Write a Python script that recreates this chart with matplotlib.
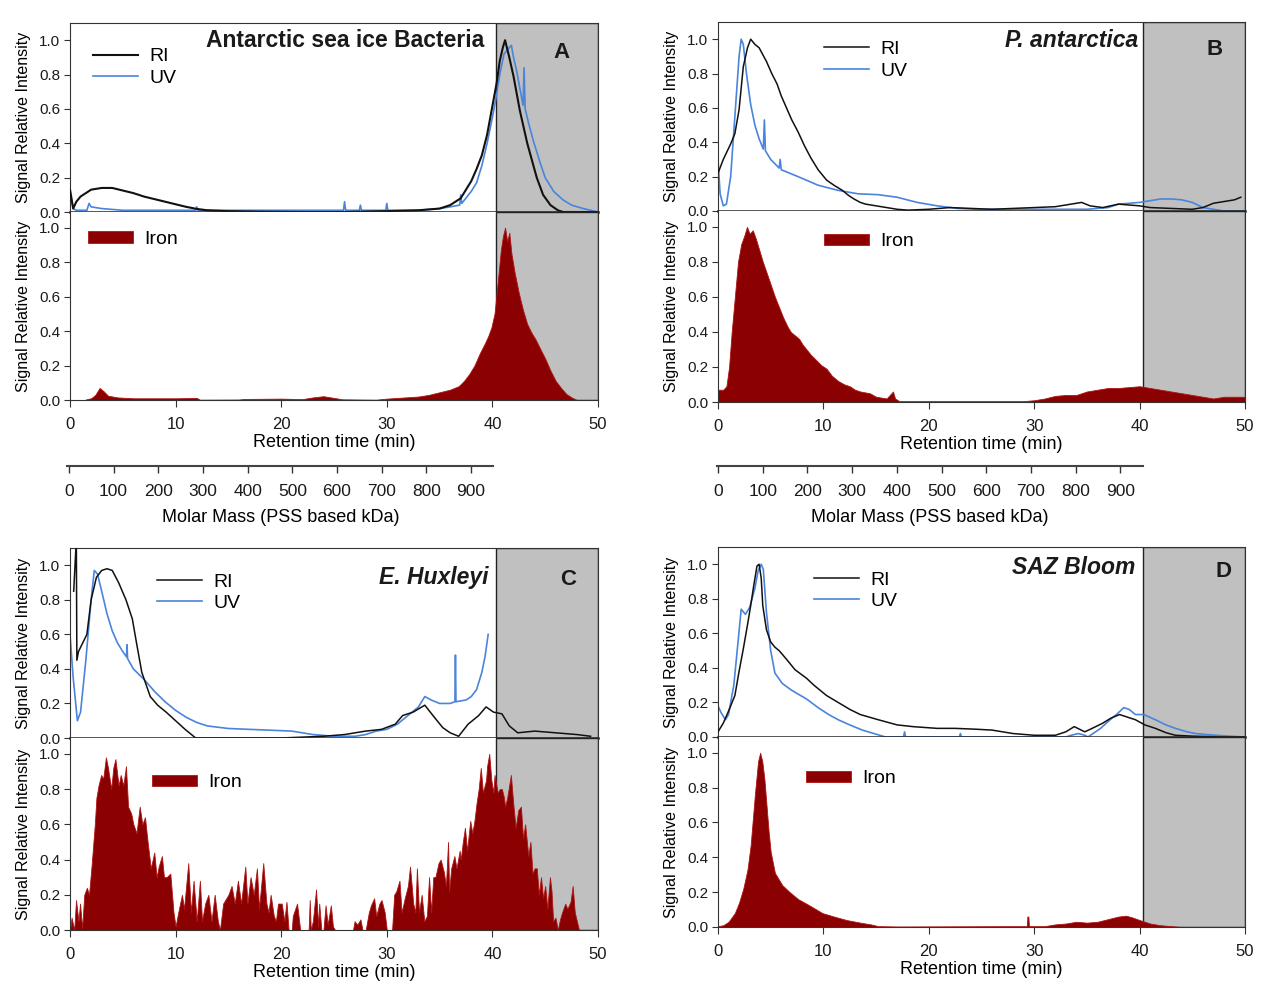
import matplotlib
matplotlib.use('Agg')
import matplotlib.pyplot as plt
import numpy as np

# -----------------------------------------------------------------------------
# Data: (retention time in min, relative signal)
# -----------------------------------------------------------------------------
A_RI = [(0, 0.13), (0.3, 0.02), (0.6, 0.06), (1, 0.09), (2, 0.13), (3, 0.14), (4, 0.14),
        (5, 0.125), (6, 0.11), (7, 0.09), (8, 0.075), (9, 0.06), (10, 0.045), (11, 0.03),
        (12, 0.018), (13, 0.01), (15, 0.005), (18, 0.002), (22, 0.0), (26, 0.0), (30, 0.005),
        (33, 0.01), (35, 0.02), (36, 0.04), (37, 0.08), (38, 0.18), (38.5, 0.25), (39, 0.33),
        (39.5, 0.45), (39.8, 0.55), (40.1, 0.65), (40.4, 0.75), (40.7, 0.88), (41.0, 0.96),
        (41.2, 1.0), (41.6, 0.9), (42.0, 0.79), (42.6, 0.59), (43.3, 0.40), (44.2, 0.2),
        (44.8, 0.1), (45.5, 0.04), (46.2, 0.01), (46.7, 0.0), (50, 0.0)]
A_UV = [(0, 0.12), (0.3, 0.02), (0.6, 0.01), (1.6, 0.01), (1.8, 0.05), (2.0, 0.03), (3, 0.02),
        (4, 0.015), (5, 0.01), (11.9, 0.01), (12.0, 0.03), (12.1, 0.01), (25.9, 0.01),
        (26.0, 0.06), (26.1, 0.01), (27.4, 0.01), (27.5, 0.04), (27.6, 0.01), (29.9, 0.01),
        (30.0, 0.05), (30.1, 0.01), (33, 0.01), (35, 0.02), (36, 0.03), (36.9, 0.04),
        (37.0, 0.1), (37.1, 0.05), (38, 0.12), (38.5, 0.17), (39, 0.27), (39.5, 0.4),
        (40, 0.55), (40.3, 0.65), (40.7, 0.8), (41.1, 0.92), (41.5, 0.95), (41.8, 0.97),
        (42.0, 0.9), (42.3, 0.82), (42.6, 0.72), (42.9, 0.62), (43.0, 0.84), (43.1, 0.6),
        (43.5, 0.5), (43.9, 0.41), (44.5, 0.29), (45.0, 0.2), (45.8, 0.12), (46.7, 0.07),
        (47.5, 0.04), (48.6, 0.02), (50, 0.0)]
A_FE = [(0, 0), (1.4, 0), (1.6, 0.005), (2.0, 0.01), (2.4, 0.03), (2.8, 0.07), (3.2, 0.05),
        (3.6, 0.025), (4.5, 0.015), (6, 0.01), (8, 0.01), (10, 0.01), (12, 0.012), (12.3, 0.002),
        (16, 0.003), (16.5, 0.006), (20, 0.008), (22, 0.005), (23, 0.015), (24, 0.022),
        (25, 0.012), (25.8, 0.004), (29, 0.002), (30, 0.008), (31, 0.012), (33, 0.02),
        (34, 0.03), (35, 0.045), (36, 0.06), (36.8, 0.08), (37.3, 0.11), (37.8, 0.15),
        (38.3, 0.2), (38.8, 0.27), (39.3, 0.33), (39.6, 0.37), (39.9, 0.42), (40.2, 0.5),
        (40.5, 0.68), (40.8, 0.87), (41.0, 0.95), (41.2, 1.0), (41.4, 0.92), (41.6, 0.97),
        (41.8, 0.85), (42.1, 0.74), (42.5, 0.62), (42.9, 0.52), (43.3, 0.44), (43.7, 0.39),
        (44.1, 0.35), (44.5, 0.3), (45.0, 0.24), (45.5, 0.17), (46.0, 0.11), (46.5, 0.07),
        (47.0, 0.035), (47.5, 0.015), (48.0, 0.0), (50, 0.0)]

B_RI = [(0, 0.22), (0.5, 0.3), (1.2, 0.39), (1.6, 0.45), (2.0, 0.59), (2.4, 0.84), (2.8, 0.95),
        (3.1, 1.0), (3.5, 0.97), (3.9, 0.95), (4.6, 0.87), (5.1, 0.8), (5.6, 0.74), (6.0, 0.67),
        (6.5, 0.6), (7.0, 0.53), (7.6, 0.46), (8.2, 0.38), (8.8, 0.31), (9.5, 0.24), (10.3, 0.18),
        (11.0, 0.15), (11.8, 0.12), (12.4, 0.09), (12.9, 0.07), (13.5, 0.05), (14, 0.04),
        (15, 0.03), (16, 0.02), (17, 0.01), (18, 0.005), (20, 0.01), (22, 0.02), (24, 0.015),
        (26, 0.01), (28, 0.015), (30, 0.02), (32, 0.025), (33.5, 0.04), (34.5, 0.05),
        (35.3, 0.03), (36.5, 0.02), (38, 0.04), (40, 0.03), (41, 0.02), (43, 0.015), (45, 0.01),
        (46, 0.02), (47, 0.045), (48, 0.055), (49, 0.065), (49.6, 0.08)]
B_UV = [(0, 0.3), (0.2, 0.1), (0.5, 0.03), (0.8, 0.04), (1.2, 0.2), (1.6, 0.55), (2.0, 0.9),
        (2.2, 1.0), (2.4, 0.97), (2.7, 0.8), (3.1, 0.62), (3.5, 0.5), (3.9, 0.42), (4.3, 0.36),
        (4.4, 0.53), (4.5, 0.35), (5.0, 0.3), (5.8, 0.25), (5.9, 0.3), (6.0, 0.24), (7.6, 0.2),
        (9.5, 0.15), (11.4, 0.12), (13.3, 0.1), (15.2, 0.095), (17, 0.08), (18.9, 0.05),
        (20.8, 0.03), (22.7, 0.015), (24.6, 0.01), (30, 0.01), (35, 0.01), (37, 0.02),
        (38, 0.04), (40, 0.05), (41, 0.06), (42, 0.07), (43, 0.07), (44, 0.065), (45, 0.05),
        (46, 0.02), (47, 0.01), (48, 0.0), (50, 0.0)]
B_FE = [(0, 0.07), (0.5, 0.07), (0.8, 0.09), (1.05, 0.2), (1.3, 0.4), (1.6, 0.6), (1.9, 0.8),
        (2.2, 0.9), (2.5, 0.95), (2.75, 1.0), (3.0, 0.96), (3.3, 0.98), (3.6, 0.93), (3.9, 0.87),
        (4.25, 0.8), (4.6, 0.74), (5.0, 0.67), (5.4, 0.6), (5.8, 0.54), (6.2, 0.48), (6.6, 0.43),
        (6.9, 0.4), (7.3, 0.38), (7.7, 0.36), (8.0, 0.33), (8.4, 0.3), (8.8, 0.27), (9.3, 0.24),
        (9.8, 0.21), (10.3, 0.19), (10.8, 0.15), (11.4, 0.12), (12.0, 0.1), (12.5, 0.09),
        (13, 0.07), (13.5, 0.06), (14.4, 0.05), (15, 0.03), (16, 0.02), (16.6, 0.06),
        (16.8, 0.02), (17.2, 0.005), (20, 0.005), (25, 0.005), (29, 0.005), (30, 0.01),
        (31, 0.02), (32, 0.035), (33, 0.04), (34, 0.04), (35, 0.06), (36, 0.07), (37, 0.08),
        (38, 0.08), (39, 0.085), (40, 0.09), (41, 0.08), (42, 0.07), (43, 0.06), (44, 0.05),
        (45, 0.04), (46, 0.03), (47, 0.02), (48, 0.03), (49, 0.03), (50, 0.03)]

C_RI = [(0.35, 0.85), (0.6, 1.15), (0.65, 0.45), (0.8, 0.5), (1.2, 0.55), (1.6, 0.6), (2.0, 0.8),
        (2.5, 0.93), (3.0, 0.97), (3.5, 0.98), (4.0, 0.97), (4.6, 0.9), (5.3, 0.8), (5.9, 0.69),
        (6.3, 0.55), (6.8, 0.38), (7.6, 0.24), (8.3, 0.19), (9.1, 0.15), (10.0, 0.1),
        (10.9, 0.05), (11.9, 0.0), (20, 0.0), (24, 0.01), (26, 0.02), (28, 0.04), (29.5, 0.05),
        (30.8, 0.08), (31.5, 0.13), (32.5, 0.15), (33.6, 0.19), (34.5, 0.12), (35.3, 0.06),
        (36.0, 0.03), (36.8, 0.01), (37.7, 0.08), (38.7, 0.13), (39.4, 0.18), (40.1, 0.15),
        (40.9, 0.14), (41.6, 0.07), (42.4, 0.03), (44, 0.04), (46, 0.03), (48, 0.02), (49.3, 0.01)]
C_UV = [(0, 0.6), (0.3, 0.35), (0.7, 0.1), (1.0, 0.15), (1.5, 0.45), (2.0, 0.8), (2.3, 0.97),
        (2.6, 0.95), (3.0, 0.85), (3.5, 0.72), (4.0, 0.62), (4.5, 0.55), (5.0, 0.5), (5.35, 0.47),
        (5.4, 0.54), (5.45, 0.46), (6.0, 0.4), (7.0, 0.34), (8.0, 0.27), (9.0, 0.21), (10, 0.16),
        (11, 0.12), (12, 0.09), (13, 0.07), (15, 0.055), (17, 0.05), (19, 0.045), (21, 0.04),
        (22, 0.03), (23, 0.02), (25, 0.01), (27, 0.01), (28, 0.02), (29, 0.04), (30, 0.05),
        (31, 0.08), (32, 0.13), (33, 0.18), (33.6, 0.24), (34.2, 0.22), (35, 0.2), (36, 0.2),
        (36.45, 0.21), (36.5, 0.48), (36.55, 0.21), (37.5, 0.22), (38, 0.24), (38.5, 0.28),
        (39, 0.38), (39.3, 0.47), (39.6, 0.6)]
C_FE = [(0, 0.0), (0.15, 0.07), (0.4, 0.0), (0.57, 0.17), (0.8, 0.05), (0.95, 0.15), (1.15, 0.01),
        (1.35, 0.2), (1.6, 0.24), (1.8, 0.2), (2.05, 0.37), (2.35, 0.6), (2.5, 0.75), (2.7, 0.82),
        (2.95, 0.88), (3.15, 0.86), (3.4, 0.98), (3.6, 0.92), (3.9, 0.8), (4.1, 0.92), (4.3, 0.97),
        (4.6, 0.82), (4.8, 0.88), (5.05, 0.82), (5.3, 0.93), (5.5, 0.7), (5.8, 0.66), (6.0, 0.6),
        (6.3, 0.55), (6.6, 0.7), (6.85, 0.6), (7.1, 0.64), (7.35, 0.5), (7.65, 0.35), (7.98, 0.44),
        (8.2, 0.3), (8.4, 0.36), (8.7, 0.42), (8.9, 0.3), (9.15, 0.3), (9.5, 0.32), (9.8, 0.1),
        (10.0, 0.02), (10.25, 0.1), (10.6, 0.2), (10.8, 0.12), (11.2, 0.38), (11.45, 0.1),
        (11.7, 0.28), (12.0, 0.05), (12.3, 0.28), (12.5, 0.05), (12.8, 0.15), (13.1, 0.2),
        (13.4, 0.05), (13.7, 0.2), (14.0, 0.05), (14.2, 0.0), (14.5, 0.15), (15.0, 0.2),
        (15.3, 0.25), (15.6, 0.15), (15.9, 0.28), (16.2, 0.15), (16.6, 0.36), (16.8, 0.15),
        (17.1, 0.3), (17.4, 0.2), (17.7, 0.35), (17.9, 0.12), (18.3, 0.38), (18.6, 0.15),
        (18.8, 0.1), (19.0, 0.2), (19.3, 0.08), (19.5, 0.05), (19.7, 0.15), (20.05, 0.15),
        (20.3, 0.05), (20.5, 0.16), (20.7, 0.0), (21.0, 0.0), (21.1, 0.08), (21.5, 0.15),
        (21.8, 0.0), (22.6, 0.0), (22.7, 0.17), (22.8, 0.0), (23.0, 0.05), (23.3, 0.23),
        (23.5, 0.02), (23.6, 0.15), (23.8, 0.0), (24.0, 0.0), (24.2, 0.14), (24.4, 0.03),
        (24.7, 0.14), (24.9, 0.02), (25.1, 0.0), (26.8, 0.0), (26.95, 0.05), (27.2, 0.03),
        (27.5, 0.06), (27.7, 0.0), (28.0, 0.0), (28.3, 0.1), (28.5, 0.14), (28.8, 0.18),
        (29.0, 0.08), (29.3, 0.15), (29.5, 0.17), (29.8, 0.1), (30.0, 0.0), (30.5, 0.0),
        (30.7, 0.2), (30.9, 0.22), (31.2, 0.28), (31.4, 0.1), (31.7, 0.18), (32.0, 0.25),
        (32.2, 0.36), (32.5, 0.15), (32.7, 0.1), (32.85, 0.35), (33.05, 0.1), (33.3, 0.2),
        (33.55, 0.05), (33.8, 0.08), (34.0, 0.3), (34.2, 0.1), (34.4, 0.3), (34.6, 0.3),
        (34.9, 0.38), (35.1, 0.4), (35.4, 0.33), (35.6, 0.25), (35.8, 0.5), (35.9, 0.22),
        (36.1, 0.35), (36.4, 0.42), (36.6, 0.35), (36.9, 0.45), (37.0, 0.4), (37.2, 0.5),
        (37.4, 0.58), (37.6, 0.45), (37.9, 0.62), (38.1, 0.55), (38.3, 0.62), (38.5, 0.72),
        (38.7, 0.8), (38.9, 0.92), (39.1, 0.78), (39.4, 0.85), (39.5, 0.93), (39.7, 1.0),
        (39.9, 0.85), (40.1, 0.78), (40.2, 0.88), (40.5, 0.78), (40.7, 0.8), (40.9, 0.8),
        (41.1, 0.75), (41.2, 0.7), (41.4, 0.75), (41.75, 0.88), (41.97, 0.72), (42.2, 0.58),
        (42.45, 0.68), (42.7, 0.7), (42.9, 0.52), (43.1, 0.6), (43.4, 0.42), (43.6, 0.5),
        (43.8, 0.32), (44.0, 0.35), (44.2, 0.35), (44.4, 0.2), (44.6, 0.3), (44.8, 0.18),
        (45.0, 0.25), (45.2, 0.12), (45.45, 0.3), (45.6, 0.22), (45.75, 0.05), (45.97, 0.07),
        (46.2, 0.0), (46.4, 0.06), (46.6, 0.1), (46.9, 0.15), (47.1, 0.12), (47.4, 0.16),
        (47.6, 0.25), (47.8, 0.1), (48.0, 0.05), (48.2, 0.0), (50, 0.0)]

D_RI = [(0, 0.03), (0.5, 0.08), (1.0, 0.15), (1.6, 0.24), (2.0, 0.38), (2.4, 0.51), (2.8, 0.65),
        (3.1, 0.76), (3.4, 0.88), (3.7, 0.99), (3.9, 1.0), (4.1, 0.92), (4.25, 0.76), (4.6, 0.62),
        (5.0, 0.55), (5.4, 0.52), (5.8, 0.5), (6.5, 0.45), (7.3, 0.39), (8.4, 0.34), (9.1, 0.3),
        (10.3, 0.24), (11.4, 0.2), (12.5, 0.16), (13.5, 0.13), (15.2, 0.1), (17, 0.07),
        (18.5, 0.06), (20.8, 0.05), (22.5, 0.05), (24.5, 0.045), (26, 0.04), (27, 0.03),
        (28, 0.02), (30, 0.01), (32, 0.01), (33, 0.03), (33.8, 0.06), (34.8, 0.03), (35.5, 0.05),
        (36.5, 0.08), (37.3, 0.11), (38.1, 0.13), (38.6, 0.12), (39.6, 0.1), (40.5, 0.07),
        (41.5, 0.05), (42.5, 0.025), (43.4, 0.01), (45, 0.005), (48, 0.0), (50, 0.0)]
D_UV = [(0, 0.18), (0.3, 0.14), (0.7, 0.1), (1.0, 0.13), (1.5, 0.3), (1.9, 0.55), (2.2, 0.74),
        (2.6, 0.71), (3.0, 0.75), (3.5, 0.86), (3.8, 0.96), (4.1, 1.0), (4.3, 0.97), (4.6, 0.72),
        (5.0, 0.5), (5.4, 0.37), (6.1, 0.31), (7.0, 0.27), (8.4, 0.22), (9.5, 0.17), (10.5, 0.13),
        (11.4, 0.1), (12.5, 0.07), (13.7, 0.04), (14.8, 0.02), (15.9, 0.0), (17.6, 0.0),
        (17.7, 0.03), (17.8, 0.0), (22.9, 0.0), (23.0, 0.02), (23.1, 0.0), (33, 0.0), (33.5, 0.01),
        (34.2, 0.02), (34.8, 0.01), (35.1, 0.0), (36.3, 0.05), (37.2, 0.1), (37.8, 0.13),
        (38.5, 0.17), (39.0, 0.16), (39.6, 0.13), (40.4, 0.13), (41.5, 0.1), (42.5, 0.07),
        (43.4, 0.05), (44.5, 0.03), (45.3, 0.02), (47.2, 0.01), (48.5, 0.005), (50, 0.0)]
D_FE = [(0, 0.005), (0.5, 0.01), (1.0, 0.03), (1.6, 0.08), (2.0, 0.14), (2.4, 0.22), (2.8, 0.33),
        (3.1, 0.47), (3.5, 0.76), (3.8, 0.95), (4.0, 1.0), (4.2, 0.95), (4.4, 0.85), (4.6, 0.7),
        (4.8, 0.55), (5.0, 0.43), (5.4, 0.31), (6.1, 0.24), (6.8, 0.2), (7.6, 0.16), (8.5, 0.13),
        (9.9, 0.08), (11, 0.06), (12.2, 0.04), (13.5, 0.025), (14.5, 0.015), (15.2, 0.005),
        (17, 0.003), (28, 0.005), (29.3, 0.005), (29.35, 0.06), (29.45, 0.06), (29.5, 0.005),
        (31, 0.005), (32, 0.015), (33, 0.02), (34, 0.03), (35, 0.025), (36, 0.03), (37, 0.045),
        (38, 0.06), (38.7, 0.065), (39.3, 0.055), (40, 0.04), (41, 0.02), (42, 0.01), (43, 0.005),
        (44, 0.0), (50, 0.0)]

TIME_TICKS = [0, 10, 20, 30, 40, 50]
MOLAR_TICKS = [0, 100, 200, 300, 400, 500, 600, 700, 800, 900]
Y_TICKS = [0.0, 0.2, 0.4, 0.6, 0.8, 1.0]
SHADE_FROM = 40.3

# -----------------------------------------------------------------------------
# Style
# -----------------------------------------------------------------------------
INK = '#1a1a1a'
RI_COLOR = '#111111'
UV_COLOR = '#4a84dc'
FE_FILL = '#8b0000'
FE_EDGE = '#b01515'
SHADE = '#c0c0c0'

plt.rcParams.update({
    'font.family': ['Liberation Sans', 'DejaVu Sans'],
    'font.size': 11,
    'axes.edgecolor': '#333333',
    'axes.linewidth': 0.8,
    'xtick.color': '#333333',
    'ytick.color': '#333333',
    'xtick.labelcolor': INK,
    'ytick.labelcolor': INK,
})

W, H = 1263, 982
fig = plt.figure(figsize=(W / 100, H / 100), dpi=100)
fig.patch.set_facecolor('white')


def px_axes(left, top, right, bottom):
    return fig.add_axes([left / W, 1 - bottom / H, (right - left) / W, (bottom - top) / H])


def xy(pairs):
    arr = np.array(pairs, dtype=float)
    return arr[:, 0], arr[:, 1]


def panel(box, ri, uv, fe, title, title_xy, italic, letter, letter_xy,
          leg_xy, fe_leg_xy, ri_lw=1.1):
    left, right, top, mid, bottom = box
    ax1 = px_axes(left, top, right, mid)
    ax2 = px_axes(left, mid, right, bottom)

    for ax in (ax1, ax2):
        ax.set_xlim(0, 50)
        ax.axvspan(SHADE_FROM, 50, facecolor=SHADE, edgecolor='#222222', lw=1.0, zorder=0)
        ax.set_yticks(Y_TICKS)
        ax.yaxis.set_major_formatter('{x:.1f}')
        ax.tick_params(axis='y', direction='out', length=4, width=0.8, labelsize=11, pad=3)
        ax.set_ylabel('Signal Relative Intensity', fontsize=11.5, labelpad=6)

    ax1.set_ylim(0, 1.1)
    ax2.set_ylim(0, 1.09)

    t, v = xy(ri)
    ax1.plot(t, v, color=RI_COLOR, lw=ri_lw, label='RI', zorder=3)
    t, v = xy(uv)
    ax1.plot(t, v, color=UV_COLOR, lw=1.2, label='UV', zorder=2)
    ax1.set_xticks([])
    ax1.spines['bottom'].set_linewidth(1.8)
    ax1.spines['bottom'].set_color('#222222')
    ax1.spines['bottom'].set_zorder(5)
    ax1.legend(loc='center left', bbox_to_anchor=leg_xy, frameon=False, fontsize=14,
               handlelength=2.3, handletextpad=0.6, labelspacing=0.2,
               borderpad=0, borderaxespad=0)
    ax1.text(*title_xy, title, ha='right', va='center', fontsize=16.5, fontweight='bold',
             style='italic' if italic else 'normal', color=INK)
    ax1.text(*letter_xy, letter, ha='center', va='center', fontsize=16, fontweight='bold',
             color=INK)

    t, v = xy(fe)
    ax2.fill_between(t, 0, v, facecolor=FE_FILL, edgecolor=FE_EDGE, lw=0.6,
                     label='Iron', zorder=2)
    ax2.spines['top'].set_visible(False)
    ax2.set_xticks(TIME_TICKS)
    ax2.tick_params(axis='x', direction='out', length=5, width=0.8, labelsize=12, pad=7)
    ax2.set_xlabel('Retention time (min)', fontsize=13, labelpad=2)
    ax2.legend(loc='center left', bbox_to_anchor=fe_leg_xy, frameon=False, fontsize=14,
               handlelength=2.3, handleheight=0.55, handletextpad=0.6,
               borderpad=0, borderaxespad=0)
    return ax1, ax2


def molar_axis(zero_px, line_px):
    per_unit = 0.447
    left = zero_px - 3 * per_unit
    right = zero_px + 950 * per_unit
    axm = fig.add_axes([left / W, 1 - line_px / H, (right - left) / W, 0.5 / H])
    axm.set_xlim(-3, 950)
    axm.set_yticks([])
    for s in ('top', 'left', 'right'):
        axm.spines[s].set_visible(False)
    axm.spines['bottom'].set_linewidth(1.5)
    axm.spines['bottom'].set_color('#444444')
    axm.patch.set_visible(False)
    axm.set_xticks(MOLAR_TICKS)
    axm.tick_params(axis='x', direction='out', length=5, width=1.0, labelsize=12.5, pad=8)
    axm.set_xlabel('Molar Mass (PSS based kDa)', fontsize=13, labelpad=7)


panel((70, 598, 23, 212, 400), A_RI, A_UV, A_FE,
      'Antarctic sea ice Bacteria', (39.2, 1.0), False, 'A', (46.5, 0.93),
      (0.044, 0.765), (0.034, 0.856), ri_lw=1.5)
panel((718, 1245, 22, 211, 402), B_RI, B_UV, B_FE,
      'P. antarctica', (39.9, 0.99), True, 'B', (47.1, 0.94),
      (0.201, 0.799), (0.201, 0.838))
panel((70, 598, 548, 738, 930), C_RI, C_UV, C_FE,
      'E. Huxleyi', (39.6, 0.93), True, 'C', (47.2, 0.92),
      (0.165, 0.766), (0.155, 0.766))
panel((718, 1245, 547, 737, 927), D_RI, D_UV, D_FE,
      'SAZ Bloom', (39.6, 0.98), True, 'D', (48.0, 0.96),
      (0.182, 0.771), (0.167, 0.779))

molar_axis(68.8, 466)
molar_axis(718, 466)

fig.savefig('out.png', dpi=100, facecolor='white')
